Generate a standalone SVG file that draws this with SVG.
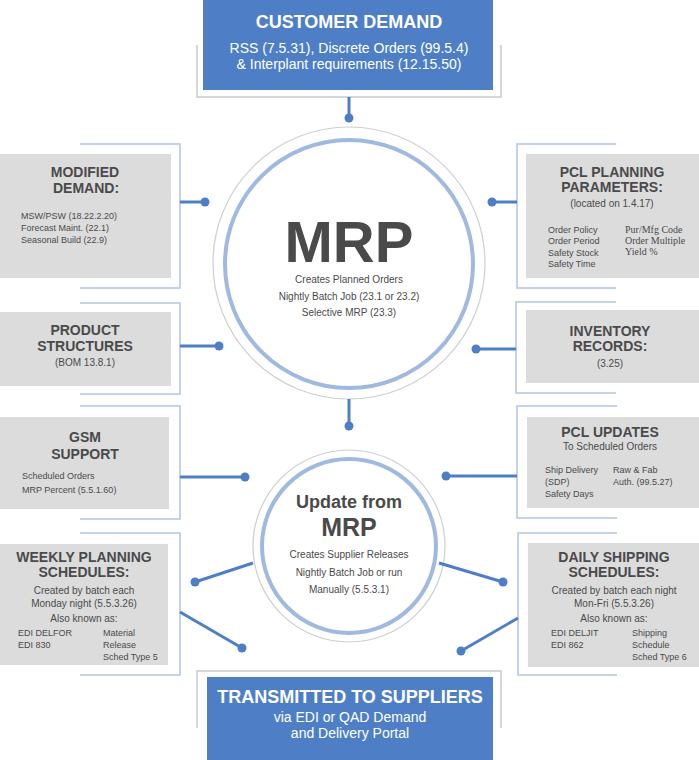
<svg xmlns="http://www.w3.org/2000/svg" width="699" height="760" viewBox="0 0 699 760">
<style>
.bg{fill:#ffffff}
.blue{fill:#4e7fc6}
.gbox{fill:#dcdcdd}
.frame{fill:none;stroke:#b3c5e3;stroke-width:1.5}
.gframe{fill:none;stroke:#c9c9c9;stroke-width:1.5}
.ln{stroke:#4e7fc6;stroke-width:3;fill:none}
.dot{fill:#4e7fc6}
.oc{fill:#ffffff;stroke:#cfcfcf;stroke-width:1.2}
.ic{fill:none;stroke:#9fb9e0;stroke-width:4}
text{font-family:"Liberation Sans",Arial,sans-serif;fill:#4a4a4a}
.t{font-weight:bold;font-size:14px;text-anchor:middle}
.wt{font-weight:bold;fill:#ffffff;text-anchor:middle}
.ws{fill:#ffffff;text-anchor:middle;font-size:14px}
.b{font-size:9px}
.bc{font-size:10px;text-anchor:middle}
.s{font-family:"Liberation Serif","Times New Roman",serif;font-size:10px}
</style>
<rect class="bg" x="0" y="0" width="699" height="760"/>

<g id="customer-demand">
<path class="gframe" d="M197,45 V97 H501 V45"/>
<rect class="blue" x="203" y="0" width="290" height="90"/>
<text class="wt" x="349" y="28" font-size="18">CUSTOMER DEMAND</text>
<text class="ws" x="349" y="53">RSS (7.5.31), Discrete Orders (99.5.4)</text>
<text class="ws" x="349" y="69">&amp; Interplant requirements (12.15.50)</text>
</g>

<g id="mrp">
<circle class="oc" cx="349" cy="263" r="136"/>
<circle class="ic" cx="349" cy="264" r="124"/>
<text x="349" y="262" font-size="58" font-weight="bold" text-anchor="middle">MRP</text>
<text class="bc" x="349" y="283">Creates Planned Orders</text>
<text class="bc" x="349" y="300">Nightly Batch Job (23.1 or 23.2)</text>
<text class="bc" x="349" y="316">Selective MRP (23.3)</text>
</g>

<g id="update-from-mrp">
<circle class="oc" cx="349" cy="546" r="96"/>
<circle class="ic" cx="349" cy="546" r="87"/>
<text x="349" y="508" font-size="18" font-weight="bold" text-anchor="middle">Update from</text>
<text x="349" y="536" font-size="25" font-weight="bold" text-anchor="middle">MRP</text>
<text class="bc" x="349" y="558">Creates Supplier Releases</text>
<text class="bc" x="349" y="576">Nightly Batch Job or run</text>
<text class="bc" x="349" y="593">Manually (5.5.3.1)</text>
</g>

<g id="modified-demand">
<path class="frame" d="M80,144 H180 V288 H80"/>
<rect class="gbox" x="0" y="154" width="171" height="124"/>
<text class="t" x="85" y="177">MODIFIED</text>
<text class="t" x="86" y="193">DEMAND:</text>
<text class="b" x="21" y="219">MSW/PSW (18.22.2.20)</text>
<text class="b" x="21" y="231">Forecast Maint. (22.1)</text>
<text class="b" x="21" y="243">Seasonal Build (22.9)</text>
</g>

<g id="pcl-planning-parameters">
<path class="frame" d="M616,144 H517 V288 H616"/>
<rect class="gbox" x="526" y="154" width="173" height="124"/>
<text class="t" x="612" y="177">PCL PLANNING</text>
<text class="t" x="612" y="192">PARAMETERS:</text>
<text class="bc" x="612" y="207">(located on 1.4.17)</text>
<text class="b" x="548" y="233">Order Policy</text>
<text class="b" x="548" y="244">Order Period</text>
<text class="b" x="548" y="256">Safety Stock</text>
<text class="b" x="548" y="267">Safety Time</text>
<text class="s" x="625" y="233">Pur/Mfg Code</text>
<text class="s" x="625" y="244">Order Multiple</text>
<text class="s" x="625" y="255">Yield %</text>
</g>

<g id="product-structures">
<path class="frame" d="M80,303 H180 V394 H80"/>
<rect class="gbox" x="0" y="312" width="171" height="74"/>
<text class="t" x="85" y="335">PRODUCT</text>
<text class="t" x="85" y="351">STRUCTURES</text>
<text class="bc" x="85" y="366">(BOM 13.8.1)</text>
</g>

<g id="inventory-records">
<path class="frame" d="M616,302 H516 V393 H616"/>
<rect class="gbox" x="526" y="310" width="173" height="73"/>
<text class="t" x="610" y="336">INVENTORY</text>
<text class="t" x="610" y="351">RECORDS:</text>
<text class="bc" x="610" y="367">(3.25)</text>
</g>

<g id="gsm-support">
<path class="frame" d="M80,406 H180 V519 H80"/>
<rect class="gbox" x="0" y="417" width="169" height="92"/>
<text class="t" x="85" y="442">GSM</text>
<text class="t" x="85" y="459">SUPPORT</text>
<text class="b" x="22" y="479">Scheduled Orders</text>
<text class="b" x="22" y="493">MRP Percent (5.5.1.60)</text>
</g>

<g id="pcl-updates">
<path class="frame" d="M617,406 H517 V518 H617"/>
<rect class="gbox" x="527" y="417" width="172" height="91"/>
<text class="t" x="610" y="437">PCL UPDATES</text>
<text class="bc" x="610" y="450">To Scheduled Orders</text>
<text class="b" x="545" y="473">Ship Delivery</text>
<text class="b" x="545" y="485">(SDP)</text>
<text class="b" x="545" y="497">Safety Days</text>
<text class="b" x="613" y="473">Raw &amp; Fab</text>
<text class="b" x="613" y="485">Auth. (99.5.27)</text>
</g>

<g id="weekly-planning-schedules">
<path class="frame" d="M80,533 H180 V675 H80"/>
<rect class="gbox" x="0" y="544" width="168" height="121"/>
<text class="t" x="84" y="562">WEEKLY PLANNING</text>
<text class="t" x="84" y="577">SCHEDULES:</text>
<text class="bc" x="84" y="594">Created by batch each</text>
<text class="bc" x="84" y="607">Monday night (5.5.3.26)</text>
<text class="bc" x="84" y="622">Also known as:</text>
<text class="b" x="18" y="636">EDI DELFOR</text>
<text class="b" x="18" y="648">EDI 830</text>
<text class="b" x="103" y="636">Material</text>
<text class="b" x="103" y="648">Release</text>
<text class="b" x="103" y="660">Sched Type 5</text>
</g>

<g id="daily-shipping-schedules">
<path class="frame" d="M617,533 H518 V675 H617"/>
<rect class="gbox" x="528" y="543" width="171" height="124"/>
<text class="t" x="614" y="562">DAILY SHIPPING</text>
<text class="t" x="614" y="577">SCHEDULES:</text>
<text class="bc" x="614" y="594">Created by batch each night</text>
<text class="bc" x="614" y="607">Mon-Fri (5.5.3.26)</text>
<text class="bc" x="614" y="622">Also known as:</text>
<text class="b" x="551" y="636">EDI DELJIT</text>
<text class="b" x="551" y="648">EDI 862</text>
<text class="b" x="632" y="636">Shipping</text>
<text class="b" x="632" y="648">Schedule</text>
<text class="b" x="632" y="660">Sched Type 6</text>
</g>

<g id="transmitted-to-suppliers">
<path class="gframe" d="M197,728 V671 H501 V728"/>
<rect class="blue" x="207" y="677" width="286" height="83"/>
<text class="wt" x="350" y="703" font-size="18">TRANSMITTED TO SUPPLIERS</text>
<text class="ws" x="350" y="722">via EDI or QAD Demand</text>
<text class="ws" x="350" y="738">and Delivery Portal</text>
</g>

<g id="connectors">
<line class="ln" x1="349" y1="97" x2="349" y2="118"/>
<circle class="dot" cx="349" cy="118" r="4.5"/>
<line class="ln" x1="180" y1="202" x2="205" y2="202"/>
<circle class="dot" cx="205" cy="202" r="4.5"/>
<line class="ln" x1="517" y1="202" x2="492" y2="202"/>
<circle class="dot" cx="492" cy="202" r="4.5"/>
<line class="ln" x1="180" y1="346" x2="219" y2="346"/>
<circle class="dot" cx="219" cy="346" r="4.5"/>
<line class="ln" x1="516" y1="349" x2="476" y2="349"/>
<circle class="dot" cx="476" cy="349" r="4.5"/>
<line class="ln" x1="349" y1="399" x2="349" y2="426"/>
<circle class="dot" cx="349" cy="426" r="4.5"/>
<line class="ln" x1="180" y1="477" x2="245" y2="477"/>
<circle class="dot" cx="245" cy="477" r="4.5"/>
<line class="ln" x1="517" y1="476" x2="446" y2="476"/>
<circle class="dot" cx="446" cy="476" r="4.5"/>
<line class="ln" x1="195" y1="582" x2="253" y2="563"/>
<circle class="dot" cx="195" cy="582" r="4.5"/>
<line class="ln" x1="180" y1="612" x2="242" y2="648"/>
<circle class="dot" cx="242" cy="648" r="4.5"/>
<line class="ln" x1="439" y1="563" x2="503" y2="582"/>
<circle class="dot" cx="503" cy="582" r="4.5"/>
<line class="ln" x1="518" y1="618" x2="461" y2="651"/>
<circle class="dot" cx="461" cy="651" r="4.5"/>
</g>
</svg>
